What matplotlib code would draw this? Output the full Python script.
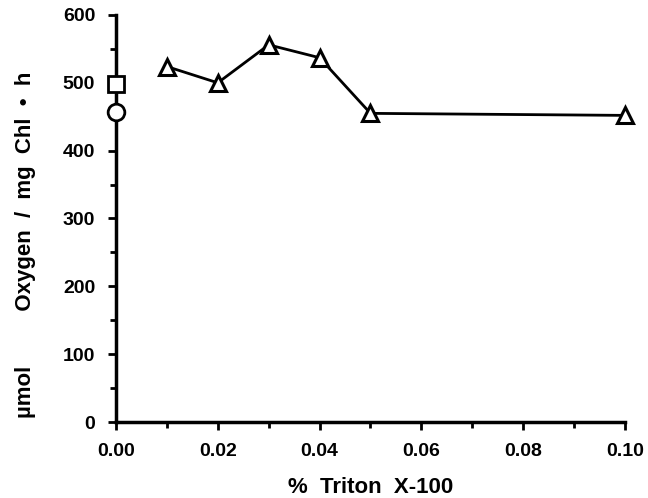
import matplotlib
matplotlib.use("Agg")
import matplotlib.pyplot as plt
from matplotlib.ticker import MultipleLocator

triton = [0.01, 0.02, 0.03, 0.04, 0.05, 0.10]
oxygen = [524, 500, 556, 537, 455, 452]
control_square_x = [0.0]
control_square_y = [498]
control_circle_x = [0.0]
control_circle_y = [457]
xticks = [0.00, 0.02, 0.04, 0.06, 0.08, 0.10]
xticklabels = ["0.00", "0.02", "0.04", "0.06", "0.08", "0.10"]
yticks = [0, 100, 200, 300, 400, 500, 600]

plt.rcParams['font.family'] = ['Liberation Sans', 'DejaVu Sans']
plt.rcParams['font.weight'] = 'bold'

fig = plt.figure(figsize=(6.48, 4.98), dpi=100)
ax = fig.add_axes([0.1790, 0.1526, 0.7855, 0.8173])

ax.plot(triton, oxygen, color='black', lw=2, marker='^', markersize=12,
        markerfacecolor='white', markeredgecolor='black', markeredgewidth=2.2,
        clip_on=False, zorder=3)
ax.plot(control_square_x, control_square_y, ls='none', marker='s', markersize=11,
        markerfacecolor='white', markeredgecolor='black', markeredgewidth=2,
        clip_on=False, zorder=4)
ax.plot(control_circle_x, control_circle_y, ls='none', marker='o', markersize=12,
        markerfacecolor='white', markeredgecolor='black', markeredgewidth=2,
        clip_on=False, zorder=4)

ax.set_xlim(0, 0.10)
ax.set_ylim(0, 600)
ax.set_xticks(xticks)
ax.set_xticklabels(xticklabels)
ax.set_yticks(yticks)
ax.xaxis.set_minor_locator(MultipleLocator(0.01))
ax.yaxis.set_minor_locator(MultipleLocator(50))

for s in ['top', 'right']:
    ax.spines[s].set_visible(False)
for s in ['left', 'bottom']:
    ax.spines[s].set_linewidth(2.5)

ax.tick_params(which='major', direction='out', length=6, width=2, labelsize=14, pad=9)
ax.tick_params(which='minor', direction='out', length=4, width=2)
for lab in ax.get_xticklabels() + ax.get_yticklabels():
    lab.set_fontweight('bold')

ax.set_xlabel("%  Triton  X-100", fontsize=16, fontweight='bold', labelpad=12)
ax.set_ylabel("\u00b5mol         Oxygen  /  mg  Chl  \u2022  h", fontsize=16,
              fontweight='bold')
ax.yaxis.set_label_coords(-0.157, 0.435)

fig.savefig("out.png", dpi=100)
